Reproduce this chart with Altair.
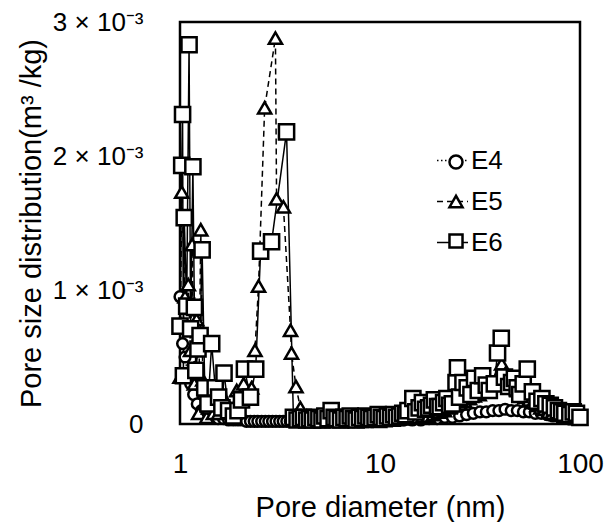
import altair as alt
import pandas as pd

# Pore diameter (nm) and pore size distribution (x 10^-3 m3/kg)
e4_x = [1.00, 1.03, 1.06, 1.09, 1.13, 1.17, 1.22, 1.28, 1.35, 1.45, 1.55, 1.65, 1.75, 1.85,
        1.95, 2.05, 2.15, 2.25, 2.35, 2.45, 2.56, 2.67, 2.78, 2.90, 3.02, 3.15, 3.28, 3.42,
        3.56, 3.70, 3.90, 4.20, 4.60, 5.00, 5.50, 6.10, 6.80, 7.60, 8.50, 9.50, 10.6, 11.8,
        13.1, 14.5, 16.0, 17.6, 19.3, 21.1, 23.0, 25.0, 27.1, 29.3, 31.6, 34.0, 36.6, 39.3,
        42.2, 45.3, 48.6, 52.1, 55.8, 59.8, 64.0, 68.5, 73.3, 78.4, 83.8, 89.6, 95.8, 99.5]
e4_y = [0.95, 0.60, 0.50, 0.38, 0.30, 0.22, 0.15, 0.10, 0.07, 0.05, 0.04, 0.04, 0.03, 0.03,
        0.03, 0.03, 0.02, 0.02, 0.02, 0.02, 0.02, 0.02, 0.02, 0.02, 0.02, 0.02, 0.02, 0.02,
        0.02, 0.02, 0.02, 0.02, 0.02, 0.02, 0.02, 0.02, 0.02, 0.02, 0.02, 0.02, 0.02, 0.03,
        0.03, 0.03, 0.03, 0.04, 0.04, 0.05, 0.05, 0.06, 0.07, 0.08, 0.09, 0.09, 0.10, 0.10,
        0.11, 0.10, 0.10, 0.09, 0.09, 0.08, 0.08, 0.07, 0.06, 0.06, 0.05, 0.05, 0.04, 0.04]

e5_x = [1.00, 1.02, 1.06, 1.10, 1.13, 1.15, 1.18, 1.21, 1.24, 1.27, 1.30, 1.36, 1.39, 1.47,
        1.56, 1.63, 1.71, 1.80, 1.92, 2.00, 2.08, 2.18, 2.28, 2.37, 2.47, 2.65, 3.00, 3.04,
        3.29, 3.57, 3.61, 3.80, 4.00, 4.30, 4.60, 4.90, 5.20, 5.50, 5.80, 6.10, 6.45, 6.80,
        7.20, 7.60, 8.00, 8.45, 8.90, 9.40, 9.90, 10.4, 11.0, 11.6, 12.2, 12.9, 13.7, 14.5,
        15.4, 16.4, 17.4, 18.5, 19.7, 21.0, 22.3, 23.6, 25.0, 26.5, 28.0, 29.6, 31.3, 33.1,
        35.0, 37.1, 38.9, 40.6, 42.5, 44.4, 46.5, 48.6, 50.9, 53.2, 55.7, 58.2, 60.9, 63.7,
        66.7, 69.7, 73.0, 76.3, 79.8, 83.5, 87.4, 91.4, 95.6, 100.0]
e5_y = [0.35, 1.73, 0.95, 1.04, 0.55, 1.34, 0.30, 0.78, 0.08, 1.45, 0.33, 0.05, 0.12, 0.08,
        0.08, 0.12, 0.16, 0.10, 0.25, 0.18, 0.30, 0.20, 0.27, 0.55, 1.03, 2.36, 2.88, 1.68,
        1.62, 0.70, 0.53, 0.28, 0.12, 0.06, 0.03, 0.02, 0.02, 0.02, 0.02, 0.02, 0.02, 0.02,
        0.02, 0.03, 0.02, 0.02, 0.03, 0.03, 0.02, 0.03, 0.03, 0.03, 0.04, 0.04, 0.04, 0.05,
        0.05, 0.06, 0.06, 0.07, 0.09, 0.10, 0.12, 0.14, 0.15, 0.17, 0.19, 0.21, 0.22, 0.25,
        0.27, 0.30, 0.36, 0.45, 0.38, 0.33, 0.28, 0.25, 0.22, 0.20, 0.18, 0.16, 0.14, 0.12,
        0.11, 0.09, 0.08, 0.07, 0.07, 0.06, 0.05, 0.05, 0.04, 0.04]

e6_x = [1.00, 1.02, 1.03, 1.04, 1.05, 1.08, 1.11, 1.13, 1.16, 1.18, 1.20, 1.23, 1.26, 1.29,
        1.33, 1.38, 1.44, 1.50, 1.56, 1.62, 1.66, 1.75, 1.85, 1.95, 2.03, 2.10, 2.25, 2.39,
        2.53, 2.87, 3.41, 3.69, 3.85, 4.00, 4.14, 4.30, 4.45, 4.60, 4.78, 4.95, 5.13, 5.30,
        5.50, 5.70, 5.90, 6.10, 6.35, 6.60, 6.85, 7.10, 7.35, 7.60, 7.90, 8.20, 8.50, 8.80,
        9.10, 9.45, 9.80, 10.15, 10.5, 10.9, 11.3, 11.7, 12.1, 12.55, 13.0, 13.45, 13.8, 14.6,
        15.1, 15.7, 16.3, 16.9, 17.5, 18.1, 18.7, 19.4, 20.0, 20.8, 21.6, 22.3, 23.0, 24.0,
        24.4, 25.0, 26.0, 27.3, 28.5, 29.7, 31.0, 32.6, 34.0, 35.2, 37.3, 38.7, 40.4, 41.9,
        44.0, 45.5, 47.0, 48.5, 50.0, 52.0, 54.5, 57.8, 61.0, 64.5, 67.5, 71.0, 74.5, 78.0,
        81.0, 84.0, 89.0, 92.5, 96.0, 100.0]
e6_y = [0.73, 1.93, 2.31, 0.36, 1.54, 0.88, 2.83, 0.71, 1.92, 0.87, 0.40, 0.56, 0.66, 1.30,
        0.27, 0.15, 0.60, 0.27, 0.20, 0.12, 0.38, 0.10, 0.06, 0.10, 0.18, 0.41, 0.20, 0.41,
        1.29, 1.36, 2.18, 0.05, 0.03, 0.04, 0.05, 0.03, 0.04, 0.03, 0.05, 0.04, 0.03, 0.06,
        0.04, 0.10, 0.05, 0.04, 0.03, 0.05, 0.04, 0.06, 0.04, 0.03, 0.05, 0.04, 0.06, 0.05,
        0.04, 0.05, 0.07, 0.05, 0.04, 0.06, 0.05, 0.07, 0.05, 0.06, 0.08, 0.07, 0.10, 0.19,
        0.09, 0.12, 0.16, 0.11, 0.12, 0.14, 0.18, 0.13, 0.13, 0.16, 0.19, 0.14, 0.15, 0.31,
        0.42, 0.20, 0.31, 0.27, 0.22, 0.34, 0.25, 0.36, 0.29, 0.25, 0.30, 0.53, 0.64, 0.35,
        0.28, 0.31, 0.34, 0.27, 0.22, 0.30, 0.41, 0.24, 0.17, 0.19, 0.15, 0.14, 0.12, 0.10,
        0.09, 0.08, 0.07, 0.09, 0.08, 0.05]

series_names = ["E4", "E5", "E6"]

rows = []
for name, xs, ys in [("E4", e4_x, e4_y), ("E5", e5_x, e5_y), ("E6", e6_x, e6_y)]:
    for xv, yv in zip(xs, ys):
        rows.append({"d": xv, "v": yv, "series": name, "series_l": name, "series_s": name})
df = pd.DataFrame(rows)

FONT = "Liberation Sans"

x_enc = alt.X("d:Q", scale=alt.Scale(type="log", domain=[1, 100], nice=False),
              axis=alt.Axis(title="Pore diameter (nm)", values=[1, 10, 100],
                            labelExpr="format(datum.value, 'd')", labelFlush=False,
                            ticks=False, domain=False, grid=False,
                            labelFontSize=28, labelPadding=26,
                            titleFontSize=29, titlePadding=15, titleFontWeight="normal"))
y_enc = alt.Y("v:Q", scale=alt.Scale(domain=[0, 3], nice=False, zero=True),
              axis=alt.Axis(title="Pore size distribution(m³ /kg)", values=[0, 1, 2, 3],
                            labelExpr="datum.value == 0 ? '0' : format(round(datum.value), 'd') + ' × 10⁻³'",
                            ticks=False, domain=False, grid=False,
                            labelFontSize=26, labelPadding=37,
                            titleFontSize=29, titlePadding=6, titleFontWeight="normal"))

lines = alt.Chart(df).mark_line(color="black", strokeWidth=1.5).encode(
    x=x_enc, y=y_enc,
    detail="series:N",
    strokeDash=alt.StrokeDash("series_l:N",
        scale=alt.Scale(range=[[1.5, 2.5], [6, 4], [1, 0]]),
        legend=alt.Legend(title=None, orient="none", legendX=256, legendY=122,
                          symbolType="stroke", symbolSize=961, symbolStrokeColor="black",
                          symbolStrokeWidth=1.5, labelFontSize=26, labelFont=FONT,
                          labelOffset=2, rowPadding=11, labelColor="black")),
)

shape_legend = alt.Legend(title=None, orient="none", legendX=263, legendY=127,
                          symbolSize=170, symbolStrokeWidth=2.5, symbolOpacity=1,
                          labelFontSize=26, labelFont=FONT, labelExpr="''",
                          labelOffset=2, rowPadding=13.5, labelColor="black")

points = alt.Chart(df).mark_point(filled=False, strokeWidth=2.5, opacity=1).encode(
    x="d:Q", y="v:Q",
    shape=alt.Shape("series:N", scale=alt.Scale(range=["circle", "triangle-up", "square"]),
                    legend=shape_legend),
    fill=alt.Fill("series:N", scale=alt.Scale(range=["white", "white", "white"]),
                  legend=shape_legend),
    stroke=alt.Stroke("series:N", scale=alt.Scale(range=["black", "black", "black"]),
                      legend=shape_legend),
    size=alt.Size("series_s:N", scale=alt.Scale(range=[115, 230, 170]), legend=None),
)

chart = alt.layer(lines, points).properties(
    width=400, height=402,
    padding={"left": 9, "top": 1, "right": 0, "bottom": 4},
).configure_view(stroke="black", strokeWidth=2.5).configure_axis(
    labelFont=FONT, titleFont=FONT, labelColor="black", titleColor="black"
).configure_legend(labelFont=FONT)

chart.save("out.html", embed_options={"renderer": "svg", "actions": False})
